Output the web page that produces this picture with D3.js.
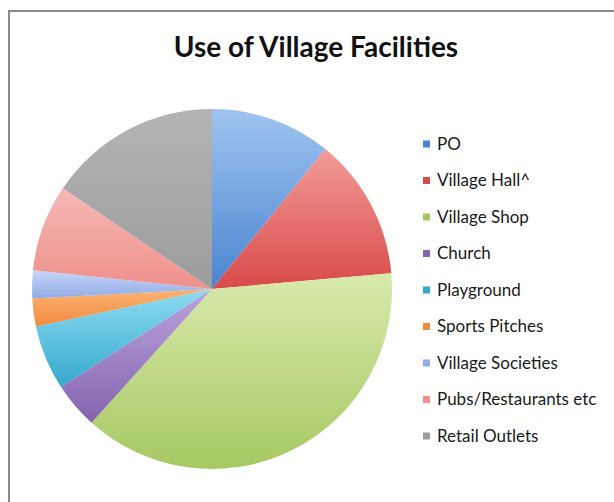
<!DOCTYPE html>
<html>
<head>
<meta charset="utf-8">
<script src="https://cdn.jsdelivr.net/npm/d3@7"></script>
<style>
  body { margin: 0; background: #fff; }
  svg { display: block; }
</style>
</head>
<body>
<div id="chart"></div>
<script>
const W = 614, H = 502;

// data (share of responses)
const facilities = ["PO", "Village Hall^", "Village Shop", "Church", "Playground",
  "Sports Pitches", "Village Societies", "Pubs/Restaurants etc", "Retail Outlets"];
const usage = [39, 46, 137, 15, 21, 9, 9, 28, 56];
const lightColors = ["#a0c4f0", "#f29c9a", "#d8eaac", "#baa4dc", "#8edcf2", "#fbb474", "#c8d6f8", "#f7b8b4", "#b4b4b4"];
const baseColors  = ["#4a84d0", "#d84a48", "#a6c862", "#8464ae", "#34a8cc", "#f28a3e", "#92ace6", "#ee908c", "#9c9c9c"];

const cx = 212, cy = 289, r = 180;

const svg = d3.select("#chart").append("svg")
  .attr("width", W)
  .attr("height", H);

// frame (only top and left edges visible)
svg.append("line").attr("x1", 9).attr("y1", 11).attr("x2", W).attr("y2", 11)
  .attr("stroke", "#8a8a8a").attr("stroke-width", 2);
svg.append("line").attr("x1", 9).attr("y1", 10).attr("x2", 9).attr("y2", H)
  .attr("stroke", "#8a8a8a").attr("stroke-width", 2);

// title
svg.append("text")
  .attr("x", 316)
  .attr("y", 57)
  .attr("text-anchor", "middle")
  .attr("font-family", "Lato, 'Open Sans', sans-serif")
  .attr("font-weight", "bold")
  .attr("font-size", "28px")
  .attr("fill", "#111")
  .text("Use of Village Facilities");

// gradients, lighter at the top of every slice
const defs = svg.append("defs");
facilities.forEach((f, i) => {
  const g = defs.append("linearGradient")
    .attr("id", "grad" + i)
    .attr("x1", 0).attr("y1", 0).attr("x2", 0).attr("y2", 1);
  g.append("stop").attr("offset", "0%").attr("stop-color", lightColors[i]);
  g.append("stop").attr("offset", "100%").attr("stop-color", baseColors[i]);
});

const pie = d3.pie().sort(null).value(d => d);
const arc = d3.arc().innerRadius(0).outerRadius(r);

svg.append("g")
  .attr("transform", `translate(${cx},${cy})`)
  .selectAll("path")
  .data(pie(usage))
  .join("path")
  .attr("d", arc)
  .attr("fill", (d, i) => `url(#grad${i})`);

// legend
const legendY = d3.scalePoint()
  .domain(facilities)
  .range([144, 436]);

const legend = svg.append("g")
  .selectAll("g")
  .data(facilities)
  .join("g")
  .attr("transform", d => `translate(423,${legendY(d)})`);

legend.append("rect")
  .attr("x", 0)
  .attr("y", -3.5)
  .attr("width", 7)
  .attr("height", 7)
  .attr("fill", (d, i) => baseColors[i]);

legend.append("text")
  .attr("x", 14)
  .attr("y", 0)
  .attr("dy", "0.35em")
  .attr("font-family", "Lato, 'Open Sans', sans-serif")
  .attr("font-size", "17px")
  .attr("fill", "#1a1a1a")
  .text(d => d);
</script>
</body>
</html>
